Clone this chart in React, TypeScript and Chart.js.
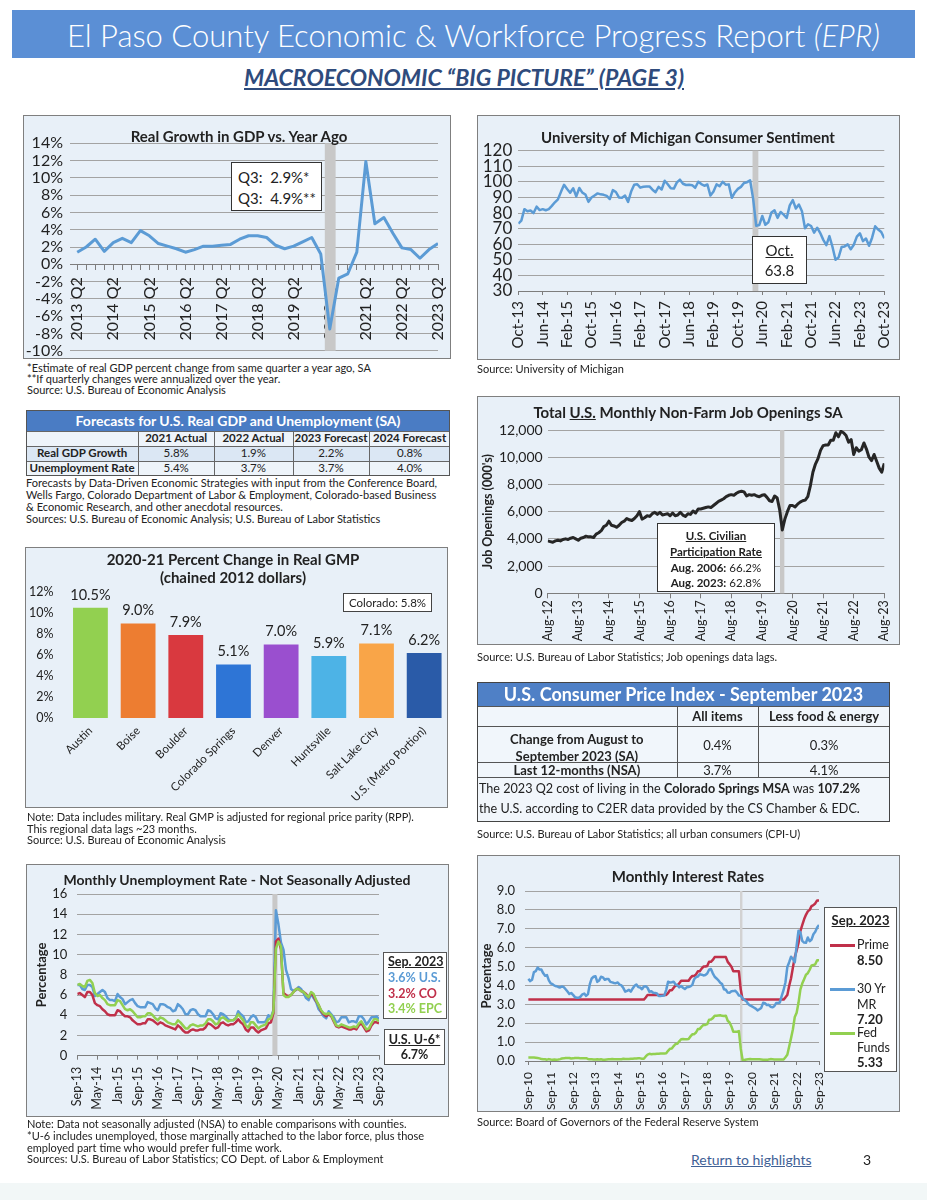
import React, { useEffect, useRef } from 'react';
import { Chart, registerables } from 'chart.js';

Chart.register(...registerables);

const FONT = 'Lato, "Open Sans", "DejaVu Sans", sans-serif';
Chart.defaults.font.family = FONT;
Chart.defaults.color = '#222';

// ---------------- DATA ----------------
const gdpQuarters = [
  '2013 Q2', '2013 Q3', '2013 Q4', '2014 Q1', '2014 Q2', '2014 Q3', '2014 Q4', '2015 Q1', '2015 Q2', '2015 Q3',
  '2015 Q4', '2016 Q1', '2016 Q2', '2016 Q3', '2016 Q4', '2017 Q1', '2017 Q2', '2017 Q3', '2017 Q4', '2018 Q1',
  '2018 Q2', '2018 Q3', '2018 Q4', '2019 Q1', '2019 Q2', '2019 Q3', '2019 Q4', '2020 Q1', '2020 Q2', '2020 Q3',
  '2020 Q4', '2021 Q1', '2021 Q2', '2021 Q3', '2021 Q4', '2022 Q1', '2022 Q2', '2022 Q3', '2022 Q4', '2023 Q1',
  '2023 Q2',
];
const gdpGrowth = [
  1.4, 2.0, 2.9, 1.5, 2.5, 3.0, 2.5, 3.9, 3.3, 2.4,
  2.1, 1.8, 1.4, 1.7, 2.1, 2.1, 2.2, 2.3, 2.9, 3.3,
  3.3, 3.1, 2.2, 1.8, 2.1, 2.6, 3.1, 1.2, -7.5, -1.6,
  -1.1, 1.4, 11.9, 4.7, 5.4, 3.6, 1.9, 1.7, 0.7, 1.7,
  2.4,
];
const GDP_LABEL_EVERY = 4;

const sentimentTicks = ['Oct-13', 'Jun-14', 'Feb-15', 'Oct-15', 'Jun-16', 'Feb-17', 'Oct-17', 'Jun-18', 'Feb-19', 'Oct-19', 'Jun-20', 'Feb-21', 'Oct-21', 'Jun-22', 'Feb-23', 'Oct-23'];
const sentiment = [
  73.2, 75.1, 82.5,
  81.2, 81.6, 80.0, 84.1, 81.9, 82.5, 81.8, 82.5, 84.6, 86.9, 88.8, 93.6,
  98.1, 95.4, 93.0, 95.9, 90.7, 96.1, 93.1, 91.9, 87.2, 90.0, 91.3, 92.6,
  92.0, 91.7, 91.0, 89.0, 94.7, 93.5, 90.0, 89.8, 91.2, 87.2, 93.8, 98.2,
  98.5, 96.3, 96.9, 97.0, 97.1, 95.0, 93.4, 96.8, 95.1, 100.7, 98.5, 95.9,
  95.7, 99.7, 101.4, 98.8, 98.0, 98.2, 97.9, 96.2, 100.1, 98.6, 97.5, 98.3,
  91.2, 93.8, 98.4, 97.2, 100.0, 98.2, 98.4, 89.8, 93.2, 95.5, 96.8, 99.3,
  99.8, 101.0, 89.1, 71.8, 72.3, 78.1, 72.5, 74.1, 80.4, 81.8, 76.9, 80.7,
  79.0, 76.8, 84.9, 88.3, 82.9, 85.5, 81.2, 70.3, 72.8, 71.7, 67.4, 70.6,
  67.2, 62.8, 59.4, 65.2, 58.4, 50.0, 51.5, 58.2, 58.6, 59.9, 56.8, 59.7,
  64.9, 67.0, 62.0, 63.7, 59.0, 64.2, 71.5, 69.4, 67.8, 63.8,
];
const SENTIMENT_TICK_STEP = 8;

const jobTicks = ['Aug-12', 'Aug-13', 'Aug-14', 'Aug-15', 'Aug-16', 'Aug-17', 'Aug-18', 'Aug-19', 'Aug-20', 'Aug-21', 'Aug-22', 'Aug-23'];
const jobOpenings = [
  3850, 3800, 3750, 3850, 3900,
  3850, 3950, 4000, 3950, 4050, 4100, 4000, 3900, 4050, 4100, 4200, 4150,
  4150, 4100, 4350, 4450, 4600, 4900, 5000, 5300, 5000, 4950, 4850, 5000,
  5200, 5300, 5500, 5400, 5350, 5500, 5700, 6000, 5450, 5550, 5700, 5650,
  5850, 5950, 5800, 5950, 5750, 5800, 5850, 5700, 5900, 5700, 5750, 5950,
  5750, 5650, 5850, 5800, 6050, 5900, 6200, 6200, 6250, 6300, 6350, 6300,
  6450, 6600, 6750, 6850, 6950, 7100, 7200, 7250, 7200, 7350, 7450, 7500,
  7450, 7150, 7250, 7200, 7250, 7150, 7100, 7200, 7250, 7050, 6800, 6750,
  7150, 7000, 6100, 4650, 5450, 6000, 6450, 6450, 6350, 6550, 6700, 6800,
  6850, 7100, 7900, 8900, 9500, 9900, 10500, 10850, 10900, 10900, 11250, 11250,
  11800, 11500, 11900, 11800, 11600, 11100, 11300, 10200, 10700, 10450, 10550, 11050,
  10600, 10000, 9750, 10200, 9700, 9200, 8900, 9550,
];
const JOB_TICK_STEP = 12;

const gmpAreas = ['Austin', 'Boise', 'Boulder', 'Colorado Springs', 'Denver', 'Huntsville', 'Salt Lake City', 'U.S. (Metro Portion)'];
const gmpChange = [10.5, 9.0, 7.9, 5.1, 7.0, 5.9, 7.1, 6.2];

const unempTicks = ['Sep-13', 'May-14', 'Jan-15', 'Sep-15', 'May-16', 'Jan-17', 'Sep-17', 'May-18', 'Jan-19', 'Sep-19', 'May-20', 'Jan-21', 'Sep-21', 'May-22', 'Jan-23', 'Sep-23'];
const unempUS = [
  7.0, 7.0, 6.6, 6.5,
  7.0, 7.0, 6.8, 5.9, 6.1, 6.3, 6.5, 6.3, 5.7, 5.5, 5.5, 5.4,
  6.1, 5.8, 5.6, 5.1, 5.3, 5.5, 5.6, 5.2, 4.9, 4.8, 4.8, 4.8,
  5.3, 5.2, 5.1, 4.7, 4.5, 5.1, 5.1, 5.0, 4.8, 4.7, 4.4, 4.5,
  5.1, 4.9, 4.6, 4.1, 4.1, 4.5, 4.6, 4.5, 4.1, 3.9, 3.9, 3.9,
  4.5, 4.4, 4.1, 3.7, 3.6, 4.2, 4.1, 3.9, 3.6, 3.5, 3.5, 3.7,
  4.4, 4.1, 3.9, 3.3, 3.4, 3.8, 4.0, 3.8, 3.3, 3.3, 3.3, 3.4,
  4.0, 3.8, 4.5, 14.4, 13.0, 11.2, 10.5, 8.5, 7.7, 6.6, 6.4, 6.5,
  6.8, 6.6, 6.2, 5.7, 5.5, 6.1, 5.7, 5.3, 4.6, 4.3, 3.9, 3.7,
  4.4, 4.1, 3.8, 3.3, 3.4, 3.8, 3.8, 3.8, 3.3, 3.4, 3.4, 3.3,
  3.9, 3.9, 3.6, 3.1, 3.4, 3.8, 3.8, 3.9, 3.6,
];
const unempCO = [
  6.1, 6.2, 6.0, 5.8,
  6.3, 6.3, 6.0, 5.2, 5.0, 4.9, 4.6, 4.4, 4.1, 4.0, 4.0, 4.0,
  4.5, 4.4, 4.1, 3.9, 3.9, 3.8, 3.5, 3.3, 3.1, 3.1, 3.2, 3.2,
  3.6, 3.6, 3.5, 3.3, 3.1, 3.3, 3.2, 3.0, 2.9, 2.8, 2.7, 2.6,
  3.0, 2.8, 2.5, 2.3, 2.3, 2.5, 2.6, 2.5, 2.5, 2.6, 2.6, 2.8,
  3.2, 3.1, 2.9, 2.7, 2.8, 3.2, 3.3, 3.1, 3.0, 3.1, 3.1, 3.3,
  3.6, 3.3, 3.1, 2.6, 2.4, 2.8, 2.8, 2.5, 2.3, 2.5, 2.6, 2.7,
  3.2, 3.3, 4.2, 11.3, 11.6, 10.5, 6.2, 6.0, 5.9, 6.0, 6.3, 6.6,
  6.6, 6.4, 6.3, 6.1, 5.8, 6.2, 5.9, 5.4, 5.0, 4.4, 4.1, 3.9,
  4.1, 3.9, 3.4, 2.9, 2.8, 2.9, 2.8, 2.7, 2.6, 2.6, 2.7, 2.6,
  3.0, 3.2, 2.8, 2.4, 2.5, 3.0, 3.3, 3.3, 3.2,
];
const unempEPC = [
  7.0, 7.1, 6.9, 6.8,
  7.4, 7.5, 7.2, 6.2, 5.9, 6.0, 5.7, 5.5, 5.1, 5.0, 5.0, 5.0,
  5.5, 5.4, 5.0, 4.6, 4.5, 4.6, 4.4, 4.1, 3.8, 3.8, 3.9, 3.9,
  4.2, 4.2, 4.0, 3.7, 3.5, 3.8, 3.7, 3.5, 3.3, 3.2, 3.1, 3.1,
  3.5, 3.3, 3.0, 2.7, 2.7, 3.0, 3.1, 3.0, 2.9, 3.0, 3.0, 3.2,
  3.6, 3.6, 3.4, 3.1, 3.2, 3.7, 3.8, 3.6, 3.4, 3.5, 3.5, 3.7,
  4.1, 3.8, 3.5, 3.0, 2.8, 3.3, 3.3, 3.0, 2.7, 2.9, 3.0, 3.1,
  3.6, 3.7, 4.4, 10.6, 11.3, 10.8, 6.0, 5.8, 5.8, 6.0, 6.3, 6.6,
  6.6, 6.4, 6.3, 6.0, 5.8, 6.3, 6.1, 5.5, 5.0, 4.5, 4.2, 4.1,
  4.2, 4.0, 3.5, 3.0, 2.9, 3.1, 3.0, 2.9, 2.8, 2.8, 2.9, 2.8,
  3.2, 3.4, 3.0, 2.6, 2.7, 3.2, 3.6, 3.6, 3.4,
];
const UNEMP_TICK_STEP = 8;

const rateTicks = ['Sep-10', 'Sep-11', 'Sep-12', 'Sep-13', 'Sep-14', 'Sep-15', 'Sep-16', 'Sep-17', 'Sep-18', 'Sep-19', 'Sep-20', 'Sep-21', 'Sep-22', 'Sep-23'];
const primeRate = [
  3.25, 3.25, 3.25, 3.25,
  3.25, 3.25, 3.25, 3.25, 3.25, 3.25, 3.25, 3.25, 3.25, 3.25, 3.25, 3.25,
  3.25, 3.25, 3.25, 3.25, 3.25, 3.25, 3.25, 3.25, 3.25, 3.25, 3.25, 3.25,
  3.25, 3.25, 3.25, 3.25, 3.25, 3.25, 3.25, 3.25, 3.25, 3.25, 3.25, 3.25,
  3.25, 3.25, 3.25, 3.25, 3.25, 3.25, 3.25, 3.25, 3.25, 3.25, 3.25, 3.25,
  3.25, 3.25, 3.25, 3.25, 3.25, 3.25, 3.25, 3.25, 3.25, 3.25, 3.25, 3.36,
  3.50, 3.50, 3.50, 3.50, 3.50, 3.50, 3.50, 3.50, 3.50, 3.50, 3.50, 3.60,
  3.75, 3.75, 3.88, 4.00, 4.00, 4.11, 4.25, 4.25, 4.25, 4.25, 4.25, 4.40,
  4.50, 4.50, 4.58, 4.75, 4.75, 4.89, 5.00, 5.00, 5.03, 5.25, 5.25, 5.35,
  5.50, 5.50, 5.50, 5.50, 5.50, 5.50, 5.50, 5.25, 5.13, 4.99, 4.75, 4.75,
  4.75, 4.75, 3.78, 3.25, 3.25, 3.25, 3.25, 3.25, 3.25, 3.25, 3.25, 3.25,
  3.25, 3.25, 3.25, 3.25, 3.25, 3.25, 3.25, 3.25, 3.25, 3.25, 3.25, 3.25,
  3.25, 3.25, 3.37, 3.50, 3.98, 4.38, 4.95, 5.50, 5.86, 6.25, 6.88, 7.19,
  7.50, 7.74, 7.92, 8.00, 8.20, 8.25, 8.34, 8.50, 8.50,
];
const mortgage30 = [
  4.35, 4.23, 4.30, 4.71,
  4.76, 4.95, 4.84, 4.84, 4.64, 4.51, 4.55, 4.27, 4.11, 4.07, 3.99, 3.96,
  3.92, 3.89, 3.95, 3.91, 3.80, 3.68, 3.55, 3.60, 3.50, 3.38, 3.35, 3.35,
  3.41, 3.53, 3.57, 3.45, 3.54, 4.07, 4.37, 4.46, 4.49, 4.19, 4.26, 4.46,
  4.43, 4.30, 4.34, 4.34, 4.19, 4.16, 4.13, 4.12, 4.16, 4.04, 4.00, 3.86,
  3.67, 3.71, 3.77, 3.67, 3.84, 3.98, 4.05, 3.91, 3.89, 3.80, 3.94, 3.96,
  3.87, 3.66, 3.69, 3.61, 3.60, 3.57, 3.44, 3.44, 3.46, 3.47, 3.77, 4.20,
  4.15, 4.17, 4.20, 4.05, 4.01, 3.90, 3.97, 3.88, 3.81, 3.90, 3.92, 3.95,
  4.03, 4.33, 4.44, 4.47, 4.59, 4.57, 4.53, 4.55, 4.63, 4.83, 4.87, 4.64,
  4.46, 4.37, 4.27, 4.14, 4.07, 3.80, 3.77, 3.62, 3.61, 3.69, 3.70, 3.72,
  3.62, 3.47, 3.45, 3.31, 3.23, 3.16, 3.02, 2.94, 2.89, 2.83, 2.77, 2.68,
  2.74, 2.81, 3.08, 3.06, 2.96, 2.98, 2.87, 2.84, 2.90, 3.07, 3.07, 3.10,
  3.45, 3.76, 4.17, 4.98, 5.23, 5.52, 5.41, 5.22, 6.11, 6.90, 6.81, 6.36,
  6.27, 6.26, 6.54, 6.34, 6.43, 6.71, 6.84, 7.07, 7.20,
];
const fedFunds = [
  0.19, 0.19, 0.19, 0.18,
  0.17, 0.16, 0.14, 0.10, 0.09, 0.09, 0.07, 0.10, 0.08, 0.07, 0.08, 0.07,
  0.08, 0.10, 0.13, 0.14, 0.16, 0.16, 0.16, 0.13, 0.14, 0.16, 0.16, 0.16,
  0.14, 0.15, 0.14, 0.15, 0.11, 0.09, 0.09, 0.08, 0.08, 0.09, 0.08, 0.09,
  0.07, 0.07, 0.08, 0.09, 0.09, 0.10, 0.09, 0.09, 0.09, 0.09, 0.09, 0.12,
  0.11, 0.11, 0.11, 0.12, 0.12, 0.13, 0.13, 0.14, 0.14, 0.12, 0.12, 0.24,
  0.34, 0.38, 0.36, 0.37, 0.37, 0.38, 0.39, 0.40, 0.40, 0.40, 0.41, 0.54,
  0.65, 0.66, 0.79, 0.90, 0.91, 1.04, 1.15, 1.16, 1.15, 1.15, 1.16, 1.30,
  1.41, 1.42, 1.51, 1.69, 1.70, 1.82, 1.91, 1.91, 1.95, 2.19, 2.20, 2.27,
  2.40, 2.40, 2.41, 2.42, 2.39, 2.38, 2.40, 2.13, 2.04, 1.83, 1.55, 1.55,
  1.55, 1.58, 0.65, 0.05, 0.05, 0.08, 0.09, 0.10, 0.09, 0.09, 0.09, 0.09,
  0.09, 0.08, 0.07, 0.07, 0.06, 0.08, 0.10, 0.09, 0.08, 0.08, 0.08, 0.08,
  0.08, 0.08, 0.20, 0.33, 0.77, 1.21, 1.68, 2.33, 2.56, 3.08, 3.78, 4.10,
  4.33, 4.57, 4.65, 4.83, 5.06, 5.08, 5.12, 5.33, 5.33,
];
const RATE_TICK_STEP = 12;

const forecastCols = ['2021 Actual', '2022 Actual', '2023 Forecast', '2024 Forecast'];
const forecastGDP = ['5.8%', '1.9%', '2.2%', '0.8%'];
const forecastUnemp = ['5.4%', '3.7%', '3.7%', '4.0%'];

const cpiCols = ['All items', 'Less food & energy'];
const cpiMonthly = ['0.4%', '0.3%'];
const cpiAnnual = ['3.7%', '4.1%'];

// ---------------- STYLE ----------------
const PANEL_BG = '#e8f0f8';
const GRID = '#a3a3a3';
const AXIS = '#7d7d7d';
const BLUE = '#5b9bd5';
const RED = '#c0304a';
const GREEN = '#92d050';
const GMP_COLORS = ['#92d050', '#ed7d31', '#d9393f', '#2e75d6', '#9a4fcf', '#4db3e6', '#f9a548', '#2a5ba8'];

const base: any = {
  responsive: false,
  maintainAspectRatio: false,
  animation: false,
  devicePixelRatio: 1,
  events: [],
  plugins: { legend: { display: false }, tooltip: { enabled: false } },
};

const pts = (arr: number[]) => arr.map((y, x) => ({ x, y }));

const line = (data: number[], color: string, width: number, order = 0) => ({
  data: pts(data),
  borderColor: color,
  borderWidth: width,
  pointRadius: 0,
  tension: 0,
  fill: false,
  order,
  borderJoinStyle: 'round',
});

const bandPlugin = (from: number, to: number, color = '#c8c8c8') => ({
  id: 'band',
  beforeDatasetsDraw(chart: any) {
    const { ctx, chartArea, scales } = chart;
    const a = scales.x.getPixelForValue(from);
    const b = scales.x.getPixelForValue(to);
    ctx.save();
    ctx.fillStyle = color;
    ctx.fillRect(a, chartArea.top, b - a, chartArea.bottom - chartArea.top);
    ctx.restore();
  },
});

const barValueLabels = {
  id: 'barValueLabels',
  afterDatasetsDraw(chart: any) {
    const { ctx } = chart;
    const meta = chart.getDatasetMeta(0);
    ctx.save();
    ctx.font = `14.5px ${FONT}`;
    ctx.fillStyle = '#222';
    ctx.textAlign = 'center';
    ctx.textBaseline = 'middle';
    meta.data.forEach((bar: any, i: number) => {
      ctx.fillText(`${gmpChange[i].toFixed(1)}%`, bar.x, bar.y - 12.7);
    });
    ctx.restore();
  },
};

function timeAxis(o: { min: number; max: number; labels: string[]; step: number; height: number; size: number; padding: number; tick: number }) {
  return {
    type: 'linear',
    min: o.min,
    max: o.max,
    z: 1,
    afterBuildTicks: (s: any) => {
      s.ticks = o.labels.map((_, i) => ({ value: i * o.step }));
    },
    afterFit: (s: any) => {
      s.height = o.height;
      s.paddingLeft = 0;
      s.paddingRight = 0;
    },
    ticks: {
      autoSkip: false,
      minRotation: 90,
      maxRotation: 90,
      padding: o.padding,
      color: '#222',
      font: { size: o.size },
      callback: (v: number) => o.labels[Math.round(v / o.step)] ?? '',
    },
    grid: { drawOnChartArea: false, drawTicks: true, tickLength: o.tick, color: AXIS },
    border: { display: true, color: AXIS },
  };
}

function valueAxis(o: { min: number; max: number; step: number; width: number; size: number; padding: number; fmt: (v: number) => string; title?: any }) {
  return {
    type: 'linear',
    min: o.min,
    max: o.max,
    afterFit: (s: any) => {
      s.width = o.width;
      s.paddingTop = 0;
      s.paddingBottom = 0;
    },
    ticks: { autoSkip: false, stepSize: o.step, padding: o.padding, color: '#222', font: { size: o.size }, callback: o.fmt },
    grid: { color: GRID, drawTicks: false },
    border: { display: false },
    title: o.title ?? { display: false },
  };
}

// ---------------- CHART CONFIGS ----------------
const gdpConfig = () => ({
  type: 'line',
  data: { datasets: [line(gdpGrowth, BLUE, 3)] },
  options: {
    ...base,
    layout: { padding: { left: 0, top: 28.3, right: 13, bottom: 8.3 } },
    scales: {
      x: {
        type: 'linear',
        min: -0.8,
        max: gdpQuarters.length - 1,
        position: { y: 0 },
        z: 1,
        afterBuildTicks: (s: any) => {
          s.ticks = gdpQuarters.map((_, i) => ({ value: i }));
        },
        afterFit: (s: any) => {
          s.height = 0;
          s.paddingLeft = 0;
          s.paddingRight = 0;
        },
        ticks: {
          autoSkip: false,
          minRotation: 90,
          maxRotation: 90,
          padding: 8,
          color: '#222',
          font: { size: 16 },
          callback: (v: number) => (v % GDP_LABEL_EVERY === 0 ? gdpQuarters[v] : ''),
        },
        grid: { drawOnChartArea: false, drawTicks: true, tickLength: 5, color: AXIS },
        border: { display: true, color: AXIS },
      },
      y: valueAxis({ min: -10, max: 14, step: 2, width: 47, size: 16, padding: 7, fmt: (v) => `${v}%` }),
    },
  },
  plugins: [bandPlugin(27.45, 28.65)],
});

const sentimentConfig = () => ({
  type: 'line',
  data: { datasets: [line(sentiment, BLUE, 2.5)] },
  options: {
    ...base,
    layout: { padding: { left: 0, top: 35.7, right: 15.7, bottom: 0 } },
    scales: {
      x: timeAxis({ min: 0, max: sentiment.length - 1, labels: sentimentTicks, step: SENTIMENT_TICK_STEP, height: 69, size: 15, padding: 6, tick: 4 }),
      y: valueAxis({ min: 30, max: 120, step: 10, width: 41.3, size: 17, padding: 6, fmt: (v) => String(v) }),
    },
  },
  plugins: [bandPlugin(76.8, 78.7)],
});

const jobsConfig = () => ({
  type: 'line',
  data: { datasets: [line(jobOpenings, '#262626', 3)] },
  options: {
    ...base,
    layout: { padding: { left: 0, top: 34, right: 15.7, bottom: 0 } },
    scales: {
      x: timeAxis({ min: 0, max: jobOpenings.length - 1, labels: jobTicks, step: JOB_TICK_STEP, height: 51.7, size: 12.5, padding: 2, tick: 5 }),
      y: valueAxis({
        min: 0, max: 12000, step: 2000, width: 70.7, size: 14, padding: 5,
        fmt: (v) => v.toLocaleString('en-US'),
        title: { display: true, text: "Job Openings (000's)", color: '#222', font: { size: 12.5, weight: 'bold' }, padding: { top: 3, bottom: 0 } },
      }),
    },
  },
  plugins: [bandPlugin(91.1, 92.8)],
});

const gmpConfig = () => ({
  type: 'bar',
  data: {
    labels: gmpAreas,
    datasets: [{ data: gmpChange, backgroundColor: GMP_COLORS, barPercentage: 0.73, categoryPercentage: 1 }],
  },
  options: {
    ...base,
    layout: { padding: { left: 0, top: 45, right: 0, bottom: 0 } },
    scales: {
      x: {
        afterFit: (s: any) => {
          s.height = 90;
          s.paddingLeft = 0;
          s.paddingRight = 0;
        },
        grid: { display: false, drawTicks: false },
        border: { display: false },
        ticks: { autoSkip: false, minRotation: 45, maxRotation: 45, padding: 6, color: '#222', font: { size: 11.5 } },
      },
      y: {
        min: 0,
        max: 12,
        afterFit: (s: any) => {
          s.width = 41.6;
          s.paddingTop = 0;
          s.paddingBottom = 0;
        },
        grid: { display: false, drawTicks: false },
        border: { display: false },
        ticks: { autoSkip: false, stepSize: 2, padding: 13, color: '#222', font: { size: 12.5 }, callback: (v: number) => `${v}%` },
      },
    },
  },
  plugins: [barValueLabels],
});

const unempConfig = () => ({
  type: 'line',
  data: {
    datasets: [line(unempUS, BLUE, 2.5, 2), line(unempCO, RED, 2.5, 1), line(unempEPC, GREEN, 2.5, 0)],
  },
  options: {
    ...base,
    layout: { padding: { left: 0, top: 30, right: 70, bottom: 0 } },
    scales: {
      x: timeAxis({ min: 0, max: unempUS.length - 1, labels: unempTicks, step: UNEMP_TICK_STEP, height: 61.3, size: 12.5, padding: 7, tick: 4 }),
      y: valueAxis({
        min: 0, max: 16, step: 2, width: 51.3, size: 13, padding: 10, fmt: (v) => String(v),
        title: { display: true, text: 'Percentage', color: '#222', font: { size: 13, weight: 'bold' }, padding: { top: 7.9, bottom: 0 } },
      }),
    },
  },
  plugins: [bandPlugin(77.6, 79.6)],
});

const ratesConfig = () => ({
  type: 'line',
  data: {
    datasets: [line(primeRate, RED, 2.5, 1), line(mortgage30, BLUE, 2.5, 0), line(fedFunds, GREEN, 2.5, 2)],
  },
  options: {
    ...base,
    layout: { padding: { left: 0, top: 36, right: 81, bottom: 0 } },
    scales: {
      x: timeAxis({ min: -1.8, max: primeRate.length - 1, labels: rateTicks, step: RATE_TICK_STEP, height: 51, size: 12, padding: 7, tick: 4 }),
      y: valueAxis({
        min: 0, max: 9, step: 1, width: 48, size: 13, padding: 10, fmt: (v) => v.toFixed(1),
        title: { display: true, text: 'Percentage', color: '#222', font: { size: 13, weight: 'bold' }, padding: { top: 1.9, bottom: 0 } },
      }),
    },
  },
  plugins: [bandPlugin(113.6, 114.9, '#d2d2d2')],
});

// ---------------- COMPONENTS ----------------
function T({ x, y, s = 11, b = false, i = false, u = false, c = '#222', a = 'left', w = 400, children }: any) {
  const lh = Math.round(s * 1.25);
  const st: React.CSSProperties = {
    position: 'absolute',
    top: y - lh / 2,
    height: lh,
    lineHeight: `${lh}px`,
    fontSize: s,
    fontWeight: b ? 700 : w,
    fontStyle: i ? 'italic' : 'normal',
    color: c,
    whiteSpace: 'pre',
    textDecoration: u ? 'underline' : 'none',
    fontFamily: FONT,
  };
  if (a === 'center') {
    st.left = x - 400;
    st.width = 800;
    st.textAlign = 'center';
  } else {
    st.left = x;
  }
  return <div style={st}>{children}</div>;
}

function Rect({ x, y, w, h, bg = 'transparent', bc, bw = 1 }: any) {
  return (
    <div
      style={{
        position: 'absolute', left: x, top: y, width: w, height: h, background: bg,
        border: bc ? `${bw}px solid ${bc}` : 'none', boxSizing: 'border-box',
      }}
    />
  );
}

function ChartPanel({ x, y, w, h, config }: any) {
  const ref = useRef<HTMLCanvasElement>(null);
  useEffect(() => {
    const chart = new Chart(ref.current as HTMLCanvasElement, config());
    return () => chart.destroy();
  }, []);
  return (
    <div
      style={{
        position: 'absolute', left: x, top: y, width: w, height: h, background: PANEL_BG,
        border: '1px solid #7f7f7f', boxSizing: 'border-box',
      }}
    >
      <canvas ref={ref} width={w} height={h} style={{ position: 'absolute', left: -1, top: -1, width: w, height: h }} />
    </div>
  );
}

function ForecastTable() {
  const xs = [26, 138.3, 214, 292.7, 369.3, 450];
  const ys = [410, 430.5, 445.5, 460.5, 475.5];
  const cx = (k: number) => (xs[k] + xs[k + 1]) / 2;
  const cy = (k: number) => (ys[k] + ys[k + 1]) / 2;
  return (
    <>
      <Rect x={26} y={ys[0]} w={424} h={ys[1] - ys[0]} bg="#4a7cc4" />
      <Rect x={26} y={ys[1]} w={424} h={15} bg="#eef4fa" />
      <Rect x={26} y={ys[2]} w={424} h={15} bg="#dbe7f4" />
      <Rect x={26} y={ys[3]} w={424} h={15} bg="#eef4fa" />
      {[1, 2, 3].map((k) => (
        <Rect key={`h${k}`} x={26} y={ys[k]} w={424} h={1} bg="#666" />
      ))}
      {[1, 2, 3, 4].map((k) => (
        <Rect key={`v${k}`} x={xs[k]} y={ys[1]} w={1} h={ys[4] - ys[1]} bg="#666" />
      ))}
      <Rect x={26} y={ys[0]} w={424} h={ys[4] - ys[0]} bc="#555" />
      <T x={238} y={cy(0) + 1} s={14} b c="#fff" a="center">Forecasts for U.S. Real GDP and Unemployment (SA)</T>
      {forecastCols.map((t, k) => (
        <T key={t} x={cx(k + 1)} y={cy(1)} s={11.5} b a="center">{t}</T>
      ))}
      <T x={cx(0)} y={cy(2)} s={11.5} b a="center">Real GDP Growth</T>
      <T x={cx(0)} y={cy(3)} s={11.5} b a="center">Unemployment Rate</T>
      {forecastGDP.map((t, k) => (
        <T key={`g${k}`} x={cx(k + 1)} y={cy(2)} s={11.5} a="center">{t}</T>
      ))}
      {forecastUnemp.map((t, k) => (
        <T key={`u${k}`} x={cx(k + 1)} y={cy(3)} s={11.5} a="center">{t}</T>
      ))}
    </>
  );
}

function CpiTable() {
  const xs = [477, 676.7, 758.3, 890];
  const ys = [682, 705.7, 725.7, 762.3, 776.7, 822];
  const cx = (k: number) => (xs[k] + xs[k + 1]) / 2;
  return (
    <>
      <Rect x={477} y={ys[1]} w={413} h={ys[5] - ys[1]} bg="#f1f6fb" />
      <Rect x={477} y={ys[0]} w={413} h={ys[1] - ys[0]} bg="#4f80c6" />
      {[1, 2, 3, 4].map((k) => (
        <Rect key={`h${k}`} x={477} y={ys[k]} w={413} h={1} bg="#555" />
      ))}
      {[1, 2].map((k) => (
        <Rect key={`v${k}`} x={xs[k]} y={ys[1]} w={1} h={ys[4] - ys[1]} bg="#555" />
      ))}
      <Rect x={477} y={ys[0]} w={413} h={ys[5] - ys[0]} bc="#444" bw={1.5} />
      <T x={683.5} y={694} s={18} b c="#fff" a="center">U.S. Consumer Price Index - September 2023</T>
      {cpiCols.map((t, k) => (
        <T key={t} x={cx(k + 1)} y={716} s={13} b a="center">{t}</T>
      ))}
      <T x={cx(0)} y={738.5} s={13} b a="center">Change from August to</T>
      <T x={cx(0)} y={755.5} s={13} b a="center">September 2023 (SA)</T>
      {cpiMonthly.map((t, k) => (
        <T key={`m${k}`} x={cx(k + 1)} y={745} s={13} a="center">{t}</T>
      ))}
      <T x={cx(0)} y={770} s={13} b a="center">Last 12-months (NSA)</T>
      {cpiAnnual.map((t, k) => (
        <T key={`a${k}`} x={cx(k + 1)} y={770} s={13} a="center">{t}</T>
      ))}
      <T x={479} y={788.5} s={12.6}>
        The 2023 Q2 cost of living in the <b>Colorado Springs MSA</b> was <b>107.2%</b>
      </T>
      <T x={479} y={808.5} s={12.6}>the U.S. according to C2ER data provided by the CS Chamber &amp; EDC.</T>
    </>
  );
}

export default function App() {
  return (
    <div
      style={{
        position: 'absolute', left: 0, top: 0, width: 927, height: 1200, overflow: 'hidden',
        background: '#fff', fontFamily: FONT, color: '#222',
      }}
    >
      {/* Header */}
      <Rect x={12} y={10} w={903} h={48} bg="#5b8fd5" />
      <T x={467} y={35} s={31} w={300} c="#fff" a="center">
        El Paso County Economic &amp; Workforce Progress Report <i>(EPR)</i>
      </T>
      <T x={464} y={77} s={23} b i u c="#2f4b7c" a="center">MACROECONOMIC “BIG PICTURE” (PAGE 3)</T>

      {/* GDP chart */}
      <ChartPanel x={23} y={115} w={428} h={244} config={gdpConfig} />
      <T x={239} y={136} s={15} b a="center">Real Growth in GDP vs. Year Ago</T>
      <Rect x={231} y={162} w={91} h={49} bg="#fff" bc="#333" />
      <T x={238} y={177} s={15}>Q3:  2.9%*</T>
      <T x={238} y={198.5} s={15}>Q3:  4.9%**</T>
      <T x={27} y={368} s={11}>*Estimate of real GDP percent change from same quarter a year ago, SA</T>
      <T x={27} y={379} s={11}>**If quarterly changes were annualized over the year.</T>
      <T x={27} y={390} s={11}>Source: U.S. Bureau of Economic Analysis</T>

      {/* Michigan sentiment */}
      <ChartPanel x={477} y={115} w={423} h={245} config={sentimentConfig} />
      <T x={688} y={137} s={15} b a="center">University of Michigan Consumer Sentiment</T>
      <Rect x={752} y={236} w={55} h={48} bg="#fff" bc="#333" />
      <T x={779.5} y={250} s={15} u a="center">Oct.</T>
      <T x={779.5} y={270} s={15} a="center">63.8</T>
      <T x={477} y={369} s={11}>Source: University of Michigan</T>

      {/* Forecast table */}
      <ForecastTable />
      <T x={26} y={483} s={11}>Forecasts by Data-Driven Economic Strategies with input from the Conference Board,</T>
      <T x={26} y={495} s={11}>Wells Fargo, Colorado Department of Labor &amp; Employment, Colorado-based Business</T>
      <T x={26} y={507} s={11}>&amp; Economic Research, and other anecdotal resources.</T>
      <T x={26} y={519} s={11}>Sources: U.S. Bureau of Economic Analysis; U.S. Bureau of Labor Statistics</T>

      {/* Job openings */}
      <ChartPanel x={477} y={396} w={423} h={249} config={jobsConfig} />
      <T x={688} y={412} s={15} b a="center">
        Total <span style={{ textDecoration: 'underline' }}>U.S.</span> Monthly Non-Farm Job Openings SA
      </T>
      <Rect x={657} y={523} w={118} h={69} bg="#fff" bc="#333" bw={1.5} />
      <T x={716} y={535.7} s={11.5} b u a="center">U.S. Civilian</T>
      <T x={716} y={551.7} s={11.5} b u a="center">Participation Rate</T>
      <T x={716} y={567.7} s={11.5} a="center"><b>Aug. 2006:</b> 66.2%</T>
      <T x={716} y={583.3} s={11.5} a="center"><b>Aug. 2023:</b> 62.8%</T>
      <T x={477} y={657} s={11}>Source: U.S. Bureau of Labor Statistics; Job openings data lags.</T>

      {/* GMP bars */}
      <ChartPanel x={25} y={547} w={423} h={261} config={gmpConfig} />
      <T x={233} y={559} s={15} b a="center">2020-21 Percent Change in Real GMP</T>
      <T x={233} y={577} s={15} b a="center">(chained 2012 dollars)</T>
      <Rect x={343} y={593} w={89} h={19} bg="#fff" bc="#444" />
      <T x={387.5} y={602.5} s={11.5} a="center">Colorado: 5.8%</T>
      <T x={27} y={817} s={11}>Note: Data includes military. Real GMP is adjusted for regional price parity (RPP).</T>
      <T x={27} y={829} s={11}>This regional data lags ~23 months.</T>
      <T x={27} y={840} s={11}>Source: U.S. Bureau of Economic Analysis</T>

      {/* CPI table */}
      <CpiTable />
      <T x={477} y={834} s={11}>Source: U.S. Bureau of Labor Statistics; all urban consumers (CPI-U)</T>

      {/* Unemployment */}
      <ChartPanel x={26} y={864} w={423} h={253} config={unempConfig} />
      <T x={237} y={880} s={14} b a="center">Monthly Unemployment Rate - Not Seasonally Adjusted</T>
      <Rect x={383} y={952} w={64} h={67} bg="#fff" bc="#555" />
      <T x={388} y={962} s={12.5} b u>Sep. 2023</T>
      <T x={388} y={978} s={12.5} b c={BLUE}>3.6% U.S.</T>
      <T x={388} y={993.5} s={12.5} b c={RED}>3.2% CO</T>
      <T x={388} y={1009} s={12.5} b c={GREEN}>3.4% EPC</T>
      <Rect x={384} y={1029} w={61} h={36} bg="#fff" bc="#555" />
      <T x={414.5} y={1039.5} s={12.5} b u a="center">U.S. U-6*</T>
      <T x={414.5} y={1055} s={12.5} b a="center">6.7%</T>
      <T x={27} y={1124} s={11}>Note: Data not seasonally adjusted (NSA) to enable comparisons with counties.</T>
      <T x={27} y={1136} s={11}>*U-6 includes unemployed, those marginally attached to the labor force, plus those</T>
      <T x={27} y={1148} s={11}>employed part time who would prefer full-time work.</T>
      <T x={27} y={1159} s={11}>Sources: U.S. Bureau of Labor Statistics; CO Dept. of Labor &amp; Employment</T>

      {/* Interest rates */}
      <ChartPanel x={477} y={855} w={423} h={257} config={ratesConfig} />
      <T x={688} y={876} s={15} b a="center">Monthly Interest Rates</T>
      <Rect x={824} y={907} w={73} h={165} bg="#fff" bc="#555" />
      <T x={860.5} y={920} s={13} b u a="center">Sep. 2023</T>
      <Rect x={830} y={943.5} w={25} h={3} bg={RED} />
      <T x={857} y={945} s={12.5}>Prime</T>
      <T x={857} y={959.5} s={13} b>8.50</T>
      <Rect x={830} y={987.5} w={25} h={3} bg={BLUE} />
      <T x={857} y={989} s={12.5}>30 Yr</T>
      <T x={857} y={1004.5} s={12.5}>MR</T>
      <T x={857} y={1018.5} s={13} b>7.20</T>
      <Rect x={830} y={1031.5} w={25} h={3} bg={GREEN} />
      <T x={857} y={1033} s={12.5}>Fed</T>
      <T x={857} y={1048} s={12.5}>Funds</T>
      <T x={857} y={1062} s={13} b>5.33</T>
      <T x={477} y={1122} s={11}>Source: Board of Governors of the Federal Reserve System</T>

      {/* Footer */}
      <T x={691} y={1160} s={14} u c="#3f6196">Return to highlights</T>
      <T x={863} y={1160} s={14}>3</T>
      <Rect x={0} y={1183} w={927} h={17} bg="#f2f7f7" />
    </div>
  );
}
